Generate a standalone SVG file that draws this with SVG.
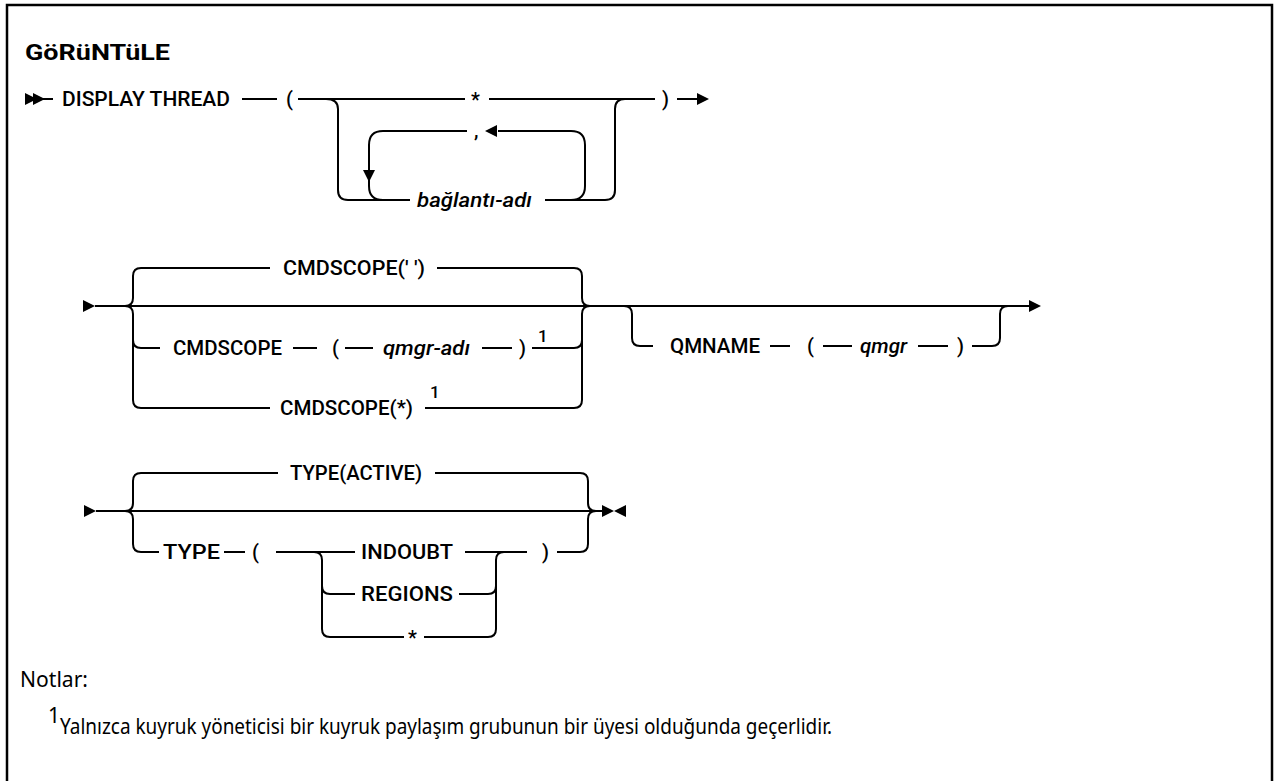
<svg xmlns="http://www.w3.org/2000/svg" xmlns:xlink="http://www.w3.org/1999/xlink" width="1276" height="781" viewBox="0 0 1276 781">
<style>
.ln{fill:none;stroke:#000;stroke-width:2}
.t{font-family:Roboto,"Liberation Sans",sans-serif;font-size:20px;font-weight:500;fill:#000}
.i{font-style:italic}
.sup{font-family:Roboto,"Liberation Sans",sans-serif;font-size:17px;font-weight:500;fill:#000}
.note{font-family:"Noto Sans","Liberation Sans",sans-serif;font-size:21px;fill:#000}
.ttl{font-family:Roboto,"Liberation Sans",sans-serif;font-size:22px;font-weight:bold;fill:#000}
</style>
<defs>
<path id="arr" d="M0,-6 L12,0 L0,6 Z" fill="#000"/>
<path id="arrL" d="M0,0 L12,-6 L12,6 Z" fill="#000"/>
<path id="arrD" d="M-6,-12 L6,-12 L0,0 Z" fill="#000"/>
</defs>
<rect x="7" y="5" width="1265" height="800" fill="#fff" stroke="#000" stroke-width="2.5"/>
<text class="ttl" x="25" y="60" textLength="145" lengthAdjust="spacingAndGlyphs">GöRüNTüLE</text>

<g id="connectors">
<!-- row 1 -->
<path class="ln" d="M41,99 H53"/>
<path class="ln" d="M242,99 H277"/>
<path class="ln" d="M298,99 H465"/>
<path class="ln" d="M489,99 H655"/>
<path class="ln" d="M677,99 H698"/>
<path class="ln" d="M326,99 Q338,99 338,109 V190 Q338,200 348,200 H410"/>
<path class="ln" d="M545,200 H605 Q615,200 615,190 V109 Q615,99 625,99"/>
<path class="ln" d="M467,131 H383 Q369,131 369,145 V186 Q369,200 383,200"/>
<path class="ln" d="M498,131 H571 Q585,131 585,145 V186 Q585,200 571,200"/>
<!-- row 2 -->
<path class="ln" d="M95,306 H1030"/>
<path class="ln" d="M125,306 Q133,306 133,298 V276 Q133,268 141,268 H270"/>
<path class="ln" d="M125,306 Q133,306 133,314 V400 Q133,408 141,408 H270"/>
<path class="ln" d="M133,340 Q133,348 141,348 H160"/>
<path class="ln" d="M437,268 H574 Q582,268 582,276 V298 Q582,306 590,306"/>
<path class="ln" d="M425,408 H574 Q582,408 582,400 V314 Q582,306 590,306"/>
<path class="ln" d="M532,348 H574 Q582,348 582,340"/>
<path class="ln" d="M293,348 H317"/>
<path class="ln" d="M345,348 H373"/>
<path class="ln" d="M482,348 H512"/>
<path class="ln" d="M624,306 Q632,306 632,314 V338 Q632,346 640,346 H653"/>
<path class="ln" d="M770,346 H790"/>
<path class="ln" d="M823,346 H852"/>
<path class="ln" d="M918,346 H948"/>
<path class="ln" d="M972,346 H992 Q1000,346 1000,338 V314 Q1000,306 1008,306"/>
<!-- row 3 -->
<path class="ln" d="M96,511 H604"/>
<path class="ln" d="M125,511 Q133,511 133,503 V481 Q133,473 141,473 H278"/>
<path class="ln" d="M125,511 Q133,511 133,519 V544 Q133,552 141,552 H159"/>
<path class="ln" d="M435,473 H580 Q588,473 588,481 V503 Q588,511 596,511"/>
<path class="ln" d="M557,552 H580 Q588,552 588,544 V519 Q588,511 596,511"/>
<path class="ln" d="M224,552 H245"/>
<path class="ln" d="M276,552 H355"/>
<path class="ln" d="M465,552 H527"/>
<path class="ln" d="M314,552 Q322,552 322,560 V629 Q322,637 330,637 H404"/>
<path class="ln" d="M322,586 Q322,594 330,594 H355"/>
<path class="ln" d="M459,594 H488 Q496,594 496,586"/>
<path class="ln" d="M424,637 H488 Q496,637 496,629 V560 Q496,552 504,552"/>
<!-- arrowheads -->
<use xlink:href="#arr" x="25" y="99"/>
<use xlink:href="#arr" x="33" y="99"/>
<use xlink:href="#arr" x="697" y="99"/>
<use xlink:href="#arrL" x="485" y="131"/>
<use xlink:href="#arrD" x="369" y="182"/>
<use xlink:href="#arr" x="83" y="306"/>
<use xlink:href="#arr" x="1029" y="306"/>
<use xlink:href="#arr" x="84" y="511"/>
<use xlink:href="#arr" x="602" y="511"/>
<use xlink:href="#arrL" x="614" y="511"/>
</g>

<g id="n-display"><text class="t" x="62" y="106" textLength="168" lengthAdjust="spacingAndGlyphs">DISPLAY THREAD</text></g>
<g id="n-lp1"><text class="t" x="286" y="106">(</text></g>
<g id="n-star1"><text class="t" x="471" y="107">*</text></g>
<g id="n-rp1"><text class="t" x="662" y="106">)</text></g>
<g id="n-comma"><text class="t" x="474" y="137">,</text></g>
<g id="n-conn"><text class="t i" x="417" y="207" textLength="115" lengthAdjust="spacingAndGlyphs">bağlantı-adı</text></g>

<g id="n-cmd-blank"><text class="t" x="283" y="275" textLength="142" lengthAdjust="spacingAndGlyphs">CMDSCOPE(' ')</text></g>
<g id="n-cmd"><text class="t" x="173" y="355" textLength="109" lengthAdjust="spacingAndGlyphs">CMDSCOPE</text></g>
<g id="n-lp2"><text class="t" x="332" y="355">(</text></g>
<g id="n-qmgradi"><text class="t i" x="383" y="355" textLength="87" lengthAdjust="spacingAndGlyphs">qmgr-adı</text></g>
<g id="n-rp2"><text class="t" x="519" y="355">)</text></g>
<g id="n-sup1"><text class="sup" x="538" y="342">1</text></g>
<g id="n-cmd-star"><text class="t" x="280" y="415" textLength="133" lengthAdjust="spacingAndGlyphs">CMDSCOPE(*)</text></g>
<g id="n-sup2"><text class="sup" x="430" y="398">1</text></g>
<g id="n-qmname"><text class="t" x="670" y="353" textLength="90" lengthAdjust="spacingAndGlyphs">QMNAME</text></g>
<g id="n-lp3"><text class="t" x="807" y="353">(</text></g>
<g id="n-qmgr"><text class="t i" x="860" y="353" textLength="47" lengthAdjust="spacingAndGlyphs">qmgr</text></g>
<g id="n-rp3"><text class="t" x="957" y="353">)</text></g>

<g id="n-active"><text class="t" x="290" y="480" textLength="132" lengthAdjust="spacingAndGlyphs">TYPE(ACTIVE)</text></g>
<g id="n-type"><text class="t" x="163" y="559" textLength="57" lengthAdjust="spacingAndGlyphs">TYPE</text></g>
<g id="n-lp4"><text class="t" x="252" y="559">(</text></g>
<g id="n-indoubt"><text class="t" x="361" y="559" textLength="92" lengthAdjust="spacingAndGlyphs">INDOUBT</text></g>
<g id="n-regions"><text class="t" x="361" y="601" textLength="92" lengthAdjust="spacingAndGlyphs">REGIONS</text></g>
<g id="n-star2"><text class="t" x="408" y="645">*</text></g>
<g id="n-rp4"><text class="t" x="542" y="559">)</text></g>

<g id="notes">
<text class="note" x="20" y="687" textLength="68" lengthAdjust="spacingAndGlyphs">Notlar:</text>
<text class="note" x="48" y="723" font-size="15">1</text>
<text class="note" x="60" y="734" textLength="772" lengthAdjust="spacingAndGlyphs">Yalnızca kuyruk yöneticisi bir kuyruk paylaşım grubunun bir üyesi olduğunda geçerlidir.</text>
</g>
</svg>
